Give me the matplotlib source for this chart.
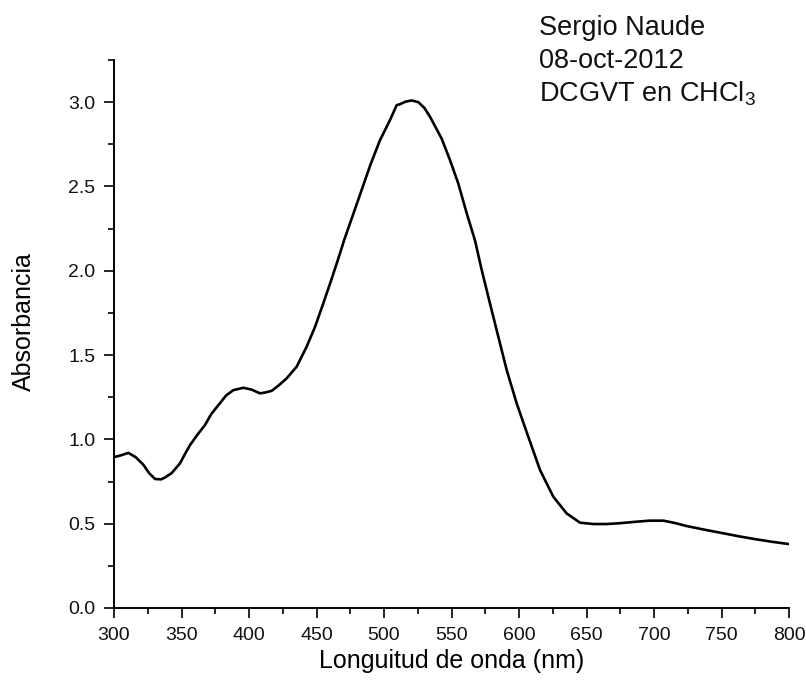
import matplotlib
matplotlib.use("Agg")
import matplotlib.pyplot as plt
from matplotlib.ticker import MultipleLocator

plt.rcParams['font.family'] = ['Liberation Sans', 'DejaVu Sans']
plt.rcParams['mathtext.default'] = 'regular'

wavelength = [300, 305, 310.6, 316, 321.7, 326, 330.4, 335, 338, 342.7, 348.9, 352,
              356.3, 362, 367.4, 372, 378.5, 383, 388.4, 395.8, 402, 408.1, 412, 416.8,
              422, 427.9, 435.3, 442.7, 448.9, 455, 461.3, 467.4, 470.4, 480, 490, 497,
              504.4, 509.4, 511.9, 516, 520.5, 525.4, 530, 534.1, 542.7, 548.9, 555,
              561.3, 567.4, 572.4, 578.5, 584.7, 590.9, 598.3, 606.9, 615.6, 625.4,
              635.3, 645.2, 655, 665, 675, 687.2, 697, 706.9, 715, 724.2, 737, 751.4,
              763, 776, 788, 800]
absorbance = [0.895, 0.905, 0.92, 0.895, 0.85, 0.80, 0.765, 0.763, 0.775, 0.80, 0.858,
              0.905, 0.966, 1.03, 1.085, 1.15, 1.215, 1.26, 1.292, 1.306, 1.295, 1.273,
              1.278, 1.288, 1.32, 1.362, 1.431, 1.55, 1.667, 1.806, 1.954, 2.103, 2.18,
              2.40, 2.63, 2.774, 2.893, 2.982, 2.988, 3.003, 3.01, 3.0, 2.965, 2.913,
              2.784, 2.656, 2.518, 2.34, 2.18, 2.004, 1.806, 1.608, 1.411, 1.213, 1.015,
              0.818, 0.66, 0.561, 0.506, 0.498, 0.498, 0.503, 0.512, 0.518, 0.518, 0.505,
              0.486, 0.465, 0.443, 0.425, 0.407, 0.392, 0.379]

annotation_lines = ["Sergio Naude", "08-oct-2012", r"DCGVT en CHCl$_{3}$"]

fig = plt.figure(figsize=(8.06, 6.90), dpi=100)
ax = fig.add_axes([114/806, 1-608/690, (789-114)/806, (608-60)/690])

ax.plot(wavelength, absorbance, color='black', linewidth=1.9)

ax.set_xlim(300, 800)
ax.set_ylim(0, 3.25)
ax.xaxis.set_major_locator(MultipleLocator(50))
ax.xaxis.set_minor_locator(MultipleLocator(25))
ax.yaxis.set_major_locator(MultipleLocator(0.5))
ax.yaxis.set_minor_locator(MultipleLocator(0.25))
ax.yaxis.set_major_formatter(matplotlib.ticker.FormatStrFormatter('%.1f'))

for s in ['top', 'right']:
    ax.spines[s].set_visible(False)
for s in ['left', 'bottom']:
    ax.spines[s].set_linewidth(1.4)

ax.tick_params(which='major', direction='out', length=7.5, width=1.2, labelsize=14,
               pad=6, labelcolor='#111111')
ax.tick_params(which='minor', direction='out', length=4, width=1.2)

ax.set_xlabel("Longuitud de onda (nm)", fontsize=18)
ax.set_ylabel("Absorbancia", fontsize=18)
ax.xaxis.set_label_coords(0.5, (608 - 649) / 548)
ax.yaxis.set_label_coords((36 - 114) / 675, (608 - 322) / 548)

baselines = [35, 68.3, 101.7]
for txt, b in zip(annotation_lines, baselines):
    fig.text(539/806, 1 - b/690, txt, fontsize=19.5, va='baseline', ha='left',
             color='#111111')

fig.savefig("out.png", dpi=100)
